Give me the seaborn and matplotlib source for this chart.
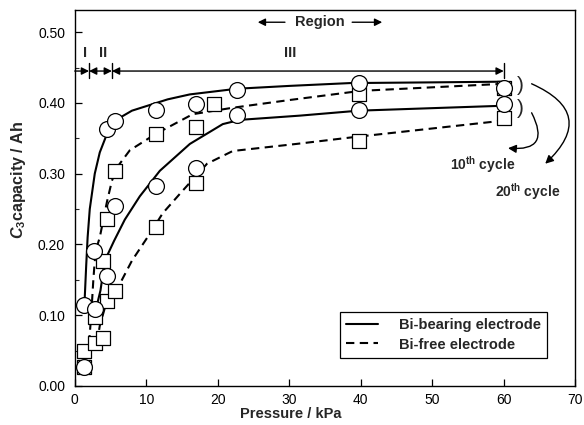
import matplotlib
matplotlib.use("Agg")
import matplotlib.pyplot as plt
import seaborn as sns
from matplotlib.lines import Line2D
from matplotlib.ticker import MultipleLocator

# ---- data ----
# fitted curves
bb10_x = [1.4, 1.6, 1.8, 2.1, 2.8, 3.5, 4.5, 6.3, 8.0, 10.5, 13.0, 16.1, 22.7, 30.0, 38.5, 50.0, 60.0]
bb10_y = [0.125, 0.17, 0.21, 0.25, 0.30, 0.33, 0.356, 0.379, 0.389, 0.397, 0.405, 0.412, 0.420, 0.424, 0.428, 0.429, 0.430]

bf10_x = [2.0, 2.3, 2.6, 2.9, 3.5, 3.9, 4.5, 5.2, 6.0, 7.7, 11.3, 16.5, 22.0, 30.0, 40.0, 60.0]
bf10_y = [0.06, 0.10, 0.15, 0.19, 0.21, 0.23, 0.26, 0.29, 0.31, 0.333, 0.356, 0.384, 0.393, 0.404, 0.417, 0.427]

bb20_x = [3.0, 3.6, 4.2, 5.5, 7.0, 9.1, 11.9, 16.1, 20.7, 23.1, 31.5, 39.7, 60.0]
bb20_y = [0.11, 0.135, 0.177, 0.205, 0.235, 0.268, 0.304, 0.342, 0.370, 0.376, 0.382, 0.389, 0.396]

bf20_x = [3.1, 3.5, 4.2, 5.0, 6.4, 8.0, 10.5, 12.3, 15.1, 18.5, 22.1, 31.0, 38.5, 60.0]
bf20_y = [0.06, 0.085, 0.11, 0.128, 0.146, 0.177, 0.215, 0.244, 0.276, 0.314, 0.332, 0.342, 0.351, 0.375]

# measured points
circle_x = [1.3, 1.3, 2.7, 2.8, 4.5, 4.5, 5.6, 5.6, 11.3, 11.3, 17.0, 17.0, 22.7, 22.7, 39.7, 39.7, 60.0, 60.0]
circle_y = [0.115, 0.027, 0.19, 0.108, 0.155, 0.363, 0.375, 0.254, 0.390, 0.283, 0.398, 0.308, 0.418, 0.383, 0.428, 0.390, 0.421, 0.398]

square_x = [1.3, 1.3, 2.8, 3.9, 2.8, 4.5, 5.6, 3.9, 4.5, 5.6, 11.3, 11.3, 17.0, 17.0, 19.5, 39.7, 39.7, 60.0, 60.0]
square_y = [0.050, 0.027, 0.061, 0.067, 0.098, 0.120, 0.134, 0.176, 0.236, 0.304, 0.356, 0.224, 0.366, 0.287, 0.398, 0.413, 0.346, 0.421, 0.379]

x_ticks = [0, 10, 20, 30, 40, 50, 60, 70]
y_ticks = [0.00, 0.10, 0.20, 0.30, 0.40, 0.50]
legend_labels = ["Bi-bearing electrode", "Bi-free electrode"]

# ---- style ----
sns.set_style("ticks")
plt.rcParams["font.family"] = ["Liberation Sans", "DejaVu Sans"]
plt.rcParams["mathtext.fontset"] = "custom"
plt.rcParams["mathtext.rm"] = "Liberation Sans:bold"
plt.rcParams["mathtext.bf"] = "Liberation Sans:bold"
plt.rcParams["mathtext.it"] = "Liberation Sans:italic:bold"
plt.rcParams["xtick.direction"] = "in"
plt.rcParams["ytick.direction"] = "in"

fig = plt.figure(figsize=(5.84, 4.25), dpi=100)
ax = fig.add_axes([0.128, 0.092, 0.857, 0.884])

LW = 1.5
DASH = (0, (4.0, 2.6))
for xs, ys, ls in [(bb10_x, bb10_y, "-"), (bb20_x, bb20_y, "-"),
                   (bf10_x, bf10_y, DASH), (bf20_x, bf20_y, DASH)]:
    sns.lineplot(x=xs, y=ys, ax=ax, color="black", lw=LW, linestyle=ls,
                 sort=False, estimator=None, legend=False, zorder=2)

sns.scatterplot(x=square_x, y=square_y, ax=ax, marker="s", s=115,
                facecolor="white", edgecolor="black", linewidth=0.9, zorder=3)
sns.scatterplot(x=circle_x, y=circle_y, ax=ax, marker="o", s=130,
                facecolor="white", edgecolor="black", linewidth=0.9, zorder=4)

ax.set_xlim(0, 70)
ax.set_ylim(0, 0.531)
ax.set_xticks(x_ticks)
ax.set_xticklabels([str(t) for t in x_ticks])
ax.set_yticks(y_ticks)
ax.set_yticklabels([f"{t:.2f}" for t in y_ticks])
ax.yaxis.set_minor_locator(MultipleLocator(0.05))
ax.tick_params(axis="both", which="major", labelsize=10, length=5, width=0.9, colors="black")
ax.tick_params(axis="y", which="major", pad=7)
ax.tick_params(axis="x", which="major", pad=5)
ax.tick_params(axis="y", which="minor", length=3, width=0.8)
for sp in ax.spines.values():
    sp.set_linewidth(1.0)
    sp.set_color("black")

ax.set_xlabel("Pressure / kPa", fontsize=10.5, fontweight="bold")
ax.xaxis.set_label_coords(0.432, -0.055)
ax.set_ylabel(r"$C_3$capacity / Ah", fontsize=11.5, fontweight="bold")
ax.yaxis.set_label_coords(-0.094, 0.548)

# ---- region annotations ----
ARW = dict(color="black", lw=1.0, shrinkA=0, shrinkB=0, mutation_scale=11)
y_reg = 0.445
ax.annotate("", xy=(2.0, y_reg), xytext=(0, y_reg), arrowprops=dict(arrowstyle="-|>", **ARW))
ax.annotate("", xy=(5.2, y_reg), xytext=(2.0, y_reg), arrowprops=dict(arrowstyle="<|-|>", **ARW))
ax.annotate("", xy=(60.0, y_reg), xytext=(5.2, y_reg), arrowprops=dict(arrowstyle="<|-|>", **ARW))
for xv in (2.0, 5.2, 60.0):
    ax.plot([xv, xv], [y_reg - 0.010, y_reg + 0.012], color="black", lw=1.0)

txt = dict(fontsize=10.5, fontweight="bold", ha="center", va="center")
ax.text(1.5, 0.470, "I", **txt)
ax.text(3.9, 0.470, "II", **txt)
ax.text(30.1, 0.470, "III", **txt)
ax.text(34.3, 0.514, "Region", **txt)
ax.annotate("", xy=(25.6, 0.514), xytext=(29.4, 0.514), arrowprops=dict(arrowstyle="-|>", **ARW))
ax.annotate("", xy=(43.0, 0.514), xytext=(38.8, 0.514), arrowprops=dict(arrowstyle="-|>", **ARW))

# brackets and cycle arrows
ax.text(62.3, 0.424, ")", fontsize=15, ha="center", va="center", fontweight="normal")
ax.text(62.3, 0.392, ")", fontsize=15, ha="center", va="center", fontweight="normal")
CARW = dict(arrowstyle="-|>", color="black", lw=1.0, shrinkA=0, shrinkB=0, mutation_scale=12)
ax.annotate("", xy=(65.8, 0.314), xytext=(63.9, 0.427),
            arrowprops=dict(connectionstyle="arc3,rad=-0.75", **CARW))
ax.annotate("", xy=(60.6, 0.336), xytext=(63.9, 0.386),
            arrowprops=dict(connectionstyle="arc3,rad=-0.9", **CARW))
ax.text(57.0, 0.313, r"10$^{\mathrm{th}}$ cycle", fontsize=10, fontweight="bold", ha="center", va="center")
ax.text(63.3, 0.275, r"20$^{\mathrm{th}}$ cycle", fontsize=10, fontweight="bold", ha="center", va="center")

# ---- legend ----
handles = [Line2D([], [], color="black", lw=LW, linestyle="-"),
           Line2D([], [], color="black", lw=LW, linestyle=DASH)]
leg = ax.legend(handles, legend_labels, loc="lower right", bbox_to_anchor=(0.944, 0.074),
                borderaxespad=0, fancybox=False, framealpha=1, edgecolor="black",
                prop=dict(size=10.5, weight="bold"), handlelength=2.2, handletextpad=1.4,
                borderpad=0.45, labelspacing=0.35)
leg.get_frame().set_linewidth(0.9)

fig.savefig("out.png", dpi=100)
